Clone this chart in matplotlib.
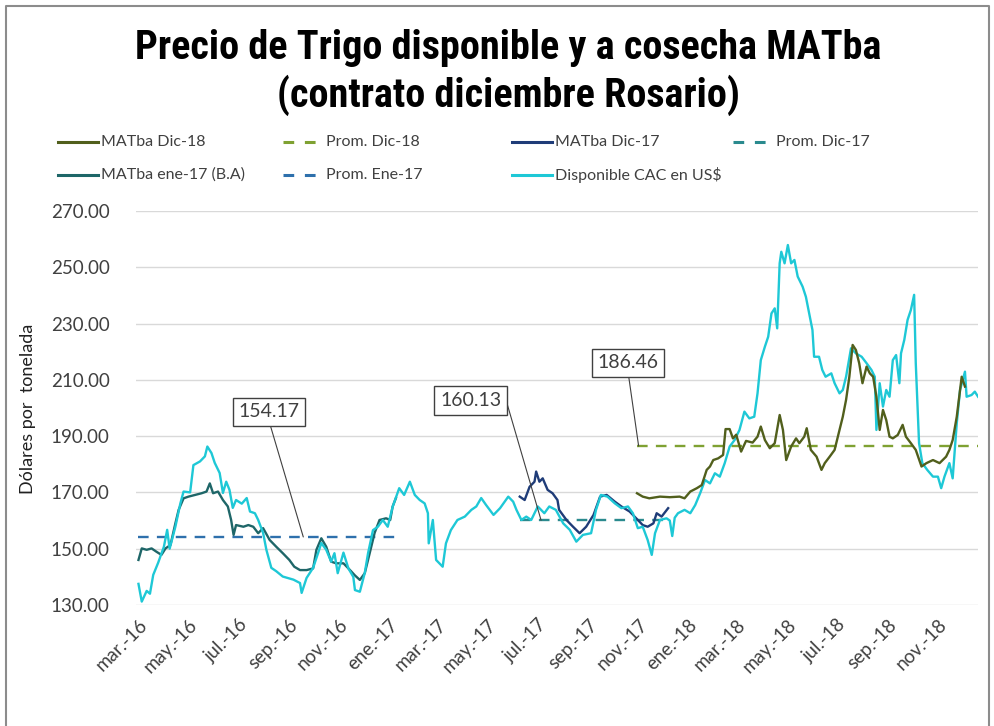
import matplotlib
matplotlib.use("Agg")
import matplotlib.pyplot as plt
import pandas as pd
from matplotlib.lines import Line2D

# Data (USD per tonne)

cac_dates = [
    "2016-03-01", "2016-03-05", "2016-03-11", "2016-03-15", "2016-03-19", "2016-03-25",
    "2016-04-01", "2016-04-05", "2016-04-08", "2016-04-15", "2016-04-21", "2016-04-25",
    "2016-05-03", "2016-05-07", "2016-05-15", "2016-05-21", "2016-05-24", "2016-05-29",
    "2016-06-02", "2016-06-08", "2016-06-12", "2016-06-16", "2016-06-20", "2016-06-24",
    "2016-06-28", "2016-07-05", "2016-07-11", "2016-07-15", "2016-07-21", "2016-07-25",
    "2016-07-31", "2016-08-04", "2016-08-10", "2016-08-16", "2016-08-24", "2016-09-06",
    "2016-09-14", "2016-09-16", "2016-09-22", "2016-09-30", "2016-10-06", "2016-10-10",
    "2016-10-16", "2016-10-22", "2016-10-26", "2016-10-30", "2016-11-06", "2016-11-12",
    "2016-11-18", "2016-11-20", "2016-11-26", "2016-12-02", "2016-12-06", "2016-12-12",
    "2016-12-18", "2016-12-24", "2016-12-30", "2017-01-05", "2017-01-13", "2017-01-19",
    "2017-01-26", "2017-02-01", "2017-02-07", "2017-02-13", "2017-02-17", "2017-02-18",
    "2017-02-23", "2017-02-27", "2017-03-07", "2017-03-11", "2017-03-17", "2017-03-25",
    "2017-04-03", "2017-04-11", "2017-04-17", "2017-04-23", "2017-04-29", "2017-05-08",
    "2017-05-16", "2017-05-26", "2017-06-01", "2017-06-05", "2017-06-11", "2017-06-17",
    "2017-06-23", "2017-07-01", "2017-07-09", "2017-07-15", "2017-07-23", "2017-08-01",
    "2017-08-09", "2017-08-17", "2017-08-25", "2017-09-04", "2017-09-10", "2017-09-16",
    "2017-09-24", "2017-10-03", "2017-10-11", "2017-10-19", "2017-10-25", "2017-10-31",
    "2017-11-06", "2017-11-12", "2017-11-17", "2017-11-21", "2017-11-27", "2017-12-05",
    "2017-12-09", "2017-12-12", "2017-12-15", "2017-12-19", "2017-12-27", "2018-01-03",
    "2018-01-09", "2018-01-15", "2018-01-21", "2018-01-27", "2018-02-02", "2018-02-08",
    "2018-02-14", "2018-02-20", "2018-02-26", "2018-03-04", "2018-03-10", "2018-03-16",
    "2018-03-22", "2018-03-26", "2018-03-30", "2018-04-04", "2018-04-08", "2018-04-12",
    "2018-04-16", "2018-04-19", "2018-04-22", "2018-04-24", "2018-04-28", "2018-05-02",
    "2018-05-06", "2018-05-10", "2018-05-14", "2018-05-20", "2018-05-24", "2018-05-28",
    "2018-06-01", "2018-06-03", "2018-06-09", "2018-06-13", "2018-06-17", "2018-06-24",
    "2018-06-28", "2018-07-04", "2018-07-08", "2018-07-12", "2018-07-18", "2018-07-24",
    "2018-07-31", "2018-08-06", "2018-08-12", "2018-08-16", "2018-08-18", "2018-08-22",
    "2018-08-26", "2018-08-30", "2018-09-03", "2018-09-07", "2018-09-11", "2018-09-15",
    "2018-09-17", "2018-09-21", "2018-09-25", "2018-09-29", "2018-10-03", "2018-10-05",
    "2018-10-09", "2018-10-13", "2018-10-19", "2018-10-26", "2018-11-01", "2018-11-05",
    "2018-11-09", "2018-11-15", "2018-11-19", "2018-11-24", "2018-11-28", "2018-12-04",
    "2018-12-06", "2018-12-12", "2018-12-16", "2018-12-20",
]
cac_values = [
    137.5, 131.2, 135.0, 134.0, 140.7, 145.0,
    150.7, 156.7, 150.0, 157.8, 166.0, 170.3,
    170.0, 179.7, 181.0, 182.8, 186.3, 184.0,
    180.5, 176.9, 169.8, 173.8, 170.9, 164.5,
    167.3, 166.0, 168.0, 163.2, 162.6, 160.2,
    155.6, 149.6, 143.2, 142.0, 140.1, 139.0,
    137.8, 134.3, 139.6, 143.2, 148.4, 152.0,
    149.6, 145.4, 148.4, 141.3, 148.6, 143.0,
    140.0, 135.3, 134.7, 141.4, 148.4, 156.6,
    157.8, 160.2, 157.8, 164.9, 171.5, 169.1,
    173.8, 169.1, 167.3, 166.1, 162.6, 151.9,
    160.2, 146.0, 143.6, 151.9, 156.6, 160.2,
    161.4, 163.8, 165.0, 168.0, 165.5, 162.0,
    164.4, 168.5, 166.7, 163.8, 160.2, 161.4,
    160.2, 165.0, 162.6, 165.0, 163.8, 159.0,
    156.7, 152.5, 154.9, 155.5, 163.8, 169.1,
    168.5, 166.1, 164.4, 165.0, 162.6, 157.3,
    157.8, 153.1, 147.8, 155.5, 160.2, 160.8,
    160.0, 154.5, 161.0, 162.6, 163.8, 162.6,
    165.5, 169.7, 174.4, 173.2, 176.8, 175.6,
    180.4, 186.3, 188.6, 192.2, 198.7, 196.3,
    196.9, 205.2, 217.0, 221.8, 225.3, 233.6,
    235.4, 228.3, 251.4, 255.5, 251.4, 257.9,
    251.4, 252.6, 246.7, 243.1, 239.5, 233.6,
    227.7, 218.2, 218.2, 213.5, 211.1, 212.3,
    208.8, 205.2, 206.4, 211.1, 221.2, 219.4,
    218.2, 215.9, 213.5, 211.1, 192.2, 208.8,
    200.5, 206.4, 204.0, 217.0, 218.8, 208.8,
    219.4, 224.2, 231.3, 234.8, 240.2, 215.9,
    187.5, 180.4, 178.0, 175.6, 175.6, 171.5,
    175.6, 180.4, 175.0, 194.6, 206.4, 212.9,
    204.0, 204.6, 205.8, 204.0,
]

ene17_dates = [
    "2016-03-01", "2016-03-05", "2016-03-11", "2016-03-17", "2016-03-23", "2016-03-29",
    "2016-04-03", "2016-04-09", "2016-04-15", "2016-04-19", "2016-04-25", "2016-05-01",
    "2016-05-09", "2016-05-17", "2016-05-23", "2016-05-27", "2016-05-31", "2016-06-06",
    "2016-06-12", "2016-06-18", "2016-06-22", "2016-06-25", "2016-06-28", "2016-07-07",
    "2016-07-13", "2016-07-19", "2016-07-25", "2016-07-31", "2016-08-08", "2016-08-16",
    "2016-08-24", "2016-09-01", "2016-09-07", "2016-09-14", "2016-09-22", "2016-09-30",
    "2016-10-04", "2016-10-10", "2016-10-16", "2016-10-22", "2016-10-28", "2016-11-06",
    "2016-11-14", "2016-11-20", "2016-11-26", "2016-12-02", "2016-12-08", "2016-12-14",
    "2016-12-20", "2016-12-28", "2017-01-02", "2017-01-05", "2017-01-09",
]
ene17_values = [
    146.0, 150.1, 149.6, 150.1, 148.9, 147.8,
    150.1, 151.3, 159.0, 163.8, 167.9, 168.5,
    169.1, 169.7, 170.3, 173.2, 169.7, 170.3,
    167.3, 165.0, 160.2, 154.9, 158.4, 157.8,
    158.4, 157.8, 155.5, 157.3, 153.1, 150.7,
    148.4, 146.0, 143.6, 142.4, 142.4, 143.0,
    149.6, 153.7, 150.7, 145.4, 144.8, 144.8,
    142.4, 140.5, 138.9, 141.3, 148.4, 155.6,
    160.2, 160.8, 160.2, 165.0, 168.0,
]

dic17_dates = [
    "2017-06-09", "2017-06-15", "2017-06-21", "2017-06-27", "2017-06-29", "2017-07-03",
    "2017-07-07", "2017-07-13", "2017-07-19", "2017-07-25", "2017-07-27", "2017-08-05",
    "2017-08-13", "2017-08-21", "2017-08-29", "2017-09-07", "2017-09-15", "2017-09-23",
    "2017-10-03", "2017-10-11", "2017-10-21", "2017-10-31", "2017-11-06", "2017-11-12",
    "2017-11-19", "2017-11-23", "2017-11-29", "2017-12-07",
]
dic17_values = [
    168.5, 167.3, 172.0, 173.8, 177.4, 173.8,
    175.0, 170.9, 169.7, 167.3, 163.8, 160.2,
    157.8, 155.5, 157.8, 162.0, 168.5, 169.1,
    166.7, 165.0, 163.2, 160.2, 158.4, 157.8,
    159.0, 162.6, 161.4, 164.4,
]

dic18_dates = [
    "2017-10-30", "2017-11-06", "2017-11-14", "2017-11-27", "2017-12-09", "2017-12-21",
    "2017-12-27", "2018-01-03", "2018-01-11", "2018-01-17", "2018-01-23", "2018-01-27",
    "2018-01-31", "2018-02-06", "2018-02-12", "2018-02-15", "2018-02-20", "2018-02-24",
    "2018-02-28", "2018-03-06", "2018-03-12", "2018-03-20", "2018-03-26", "2018-03-30",
    "2018-04-04", "2018-04-10", "2018-04-16", "2018-04-22", "2018-04-26", "2018-04-30",
    "2018-05-06", "2018-05-12", "2018-05-16", "2018-05-22", "2018-05-25", "2018-05-30",
    "2018-06-06", "2018-06-12", "2018-06-16", "2018-06-22", "2018-06-28", "2018-07-04",
    "2018-07-08", "2018-07-12", "2018-07-16", "2018-07-20", "2018-07-24", "2018-07-28",
    "2018-08-01", "2018-08-06", "2018-08-10", "2018-08-14", "2018-08-18", "2018-08-22",
    "2018-08-26", "2018-08-30", "2018-09-03", "2018-09-07", "2018-09-13", "2018-09-19",
    "2018-09-23", "2018-09-29", "2018-10-05", "2018-10-12", "2018-10-18", "2018-10-26",
    "2018-11-03", "2018-11-11", "2018-11-15", "2018-11-19", "2018-11-24", "2018-11-30",
    "2018-12-04",
]
dic18_values = [
    169.7, 168.5, 167.9, 168.5, 168.3, 168.5,
    167.9, 170.3, 171.5, 172.6, 178.0, 179.2,
    181.5, 182.1, 183.3, 192.5, 192.5, 189.2,
    190.5, 184.5, 188.3, 187.7, 189.8, 193.4,
    188.6, 185.7, 187.5, 197.5, 192.2, 181.5,
    186.3, 189.2, 187.5, 189.8, 192.8, 185.1,
    182.7, 178.0, 180.4, 182.7, 185.1, 192.2,
    196.9, 202.9, 211.1, 222.4, 220.6, 215.9,
    208.8, 214.7, 212.3, 211.1, 204.0, 192.2,
    199.3, 195.7, 189.8, 189.2, 190.4, 194.0,
    189.8, 187.5, 185.1, 179.2, 180.4, 181.5,
    180.4, 182.7, 185.1, 188.6, 196.9, 211.1,
    207.6,
]

# Averages and the stretch of dates each one covers
prom_ene17 = 154.17
prom_ene17_span = ["2016-03-01", "2017-01-13"]
prom_dic17 = 160.13
prom_dic17_span = ["2017-06-09", "2017-12-07"]
prom_dic18 = 186.46
prom_dic18_span = ["2017-10-30", "2018-12-20"]

tick_dates = pd.date_range("2016-03-01", "2018-11-01", freq="2MS")
tick_labels = [
    "mar.-16", "may.-16", "jul.-16", "sep.-16", "nov.-16", "ene.-17",
    "mar.-17", "may.-17", "jul.-17", "sep.-17", "nov.-17", "ene.-18",
    "mar.-18", "may.-18", "jul.-18", "sep.-18", "nov.-18",
]

# Colors

c_cac = "#1EC8D6"
c_ene17 = "#1E6668"
c_dic17 = "#1F3C78"
c_dic18 = "#515F1C"
c_prom_dic18 = "#7FA132"
c_prom_dic17 = "#2A8A8E"
c_prom_ene17 = "#2E70AC"

plt.rcParams["font.family"] = ["Lato", "DejaVu Sans"]

fig = plt.figure(figsize=(9.95, 7.26), dpi=100)
ax = fig.add_axes([0.1367, 0.1667, 0.8463, 0.5427])

lw = 1.7
dash = (4.5, 3.5)

ax.plot(pd.to_datetime(prom_ene17_span), [prom_ene17] * 2, color=c_prom_ene17, lw=lw, dashes=dash)
ax.plot(pd.to_datetime(prom_dic17_span), [prom_dic17] * 2, color=c_prom_dic17, lw=lw, dashes=dash)
ax.plot(pd.to_datetime(prom_dic18_span), [prom_dic18] * 2, color=c_prom_dic18, lw=lw, dashes=dash)

ax.plot(pd.to_datetime(ene17_dates), ene17_values, color=c_ene17, lw=lw)
ax.plot(pd.to_datetime(dic17_dates), dic17_values, color=c_dic17, lw=lw)
ax.plot(pd.to_datetime(cac_dates), cac_values, color=c_cac, lw=lw)
ax.plot(pd.to_datetime(dic18_dates), dic18_values, color=c_dic18, lw=lw)

ax.set_ylim(130, 270)
ax.set_xlim(pd.Timestamp("2016-02-27"), pd.Timestamp("2018-12-20"))
ax.set_yticks(range(130, 271, 20))
ax.set_yticklabels([f"{v:.2f}" for v in range(130, 271, 20)], fontsize=13.5, color="#404040")
ax.set_xticks(tick_dates)
ax.set_xticklabels(tick_labels, rotation=45, ha="right", rotation_mode="anchor",
                   fontsize=13.5, color="#404040")
ax.tick_params(length=0, pad=8)
ax.tick_params(axis="y", pad=19)
ax.grid(axis="y", color="#D9D9D9", lw=1)
ax.set_axisbelow(True)
for s in ax.spines.values():
    s.set_visible(False)

fig.text(0.028, 0.4375, "Dólares por  tonelada", rotation=90, ha="center", va="center",
         fontsize=13, color="#202020")

# Callouts

box = dict(boxstyle="square,pad=0.3", fc="white", ec="#404040", lw=1)
callout_kw = dict(ha="center", va="center", fontsize=14, color="#404040", bbox=box)
ax.annotate("154.17", xy=(pd.Timestamp("2016-09-18"), prom_ene17),
            xytext=(pd.Timestamp("2016-08-07"), 198.6), **callout_kw,
            arrowprops=dict(arrowstyle="-", color="#404040", lw=0.8, relpos=(0.5, 0),
                            shrinkA=0, shrinkB=0))
ax.annotate("160.13", xy=(pd.Timestamp("2017-07-05"), prom_dic17),
            xytext=(pd.Timestamp("2017-04-10"), 202.7), **callout_kw,
            arrowprops=dict(arrowstyle="-", color="#404040", lw=0.8, relpos=(1, 0.5),
                            shrinkA=0, shrinkB=0,
                            connectionstyle="arc,angleA=0,armA=5,angleB=90,armB=0,rad=0"))
ax.annotate("186.46", xy=(pd.Timestamp("2017-11-01"), prom_dic18),
            xytext=(pd.Timestamp("2017-10-19"), 216.0), **callout_kw,
            arrowprops=dict(arrowstyle="-", color="#404040", lw=0.8, relpos=(0.5, 0),
                            shrinkA=0, shrinkB=0))

# Title

fig.text(0.511, 0.9, "Precio de Trigo disponible y a cosecha MATba\n(contrato diciembre Rosario)",
         ha="center", va="center", fontsize=29, fontweight="black", linespacing=1.22,
         family=["Roboto Condensed", "Liberation Sans Narrow", "Roboto", "DejaVu Sans"],
         color="#000000")

# Legend drawn by hand so the columns are evenly spaced like the original

legend_items = [
    ("MATba Dic-18", c_dic18, False, 58, 142),
    ("Prom. Dic-18", c_prom_dic18, True, 283, 142),
    ("MATba Dic-17", c_dic17, False, 512, 142),
    ("Prom. Dic-17", c_prom_dic17, True, 733, 142),
    ("MATba ene-17 (B.A)", c_ene17, False, 58, 175),
    ("Prom. Ene-17", c_prom_ene17, True, 283, 175),
    ("Disponible CAC en US$", c_cac, False, 512, 175),
]
W, H = 995, 726
for label, color, dashed, px, py in legend_items:
    yy = 1 - py / H
    line = Line2D([px / W, (px + 40) / W], [yy, yy], transform=fig.transFigure,
                  color=color, lw=lw + 0.5)
    if dashed:
        line.set_dashes((3.5, 3.5))
    fig.add_artist(line)
    fig.text((px + 43) / W, yy, label, ha="left", va="center", fontsize=11.5, color="#404040")

# Outer frame (left, top, right)

frame = Line2D([6 / W, 6 / W, 989 / W, 989 / W], [0, 1 - 6 / H, 1 - 6 / H, 0],
               transform=fig.transFigure, color="#8C8C8C", lw=1.5)
fig.add_artist(frame)

fig.savefig("out.png", dpi=100)
